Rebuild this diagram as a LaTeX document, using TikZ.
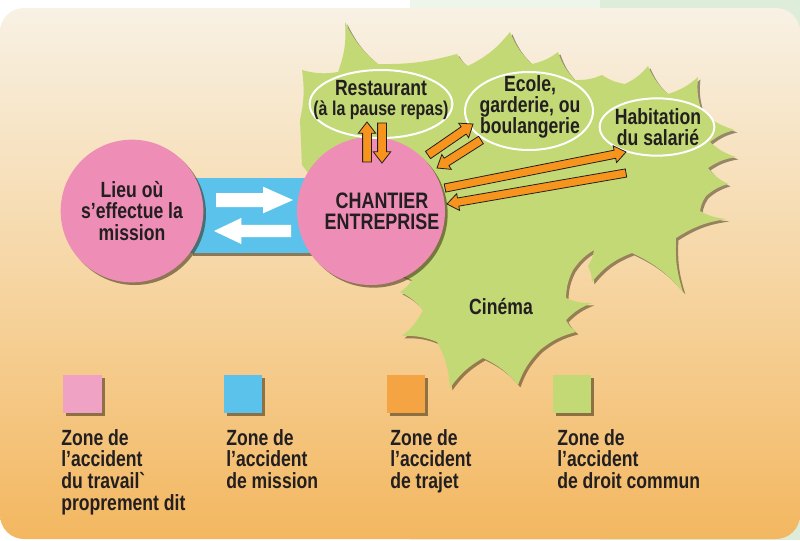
\documentclass[tikz,border=0pt]{standalone}
\usepackage{fontspec}
\setmainfont{Liberation Sans}[FakeStretch=0.8]
\usetikzlibrary{shapes.geometric,calc,shadows}
\definecolor{splat}{HTML}{C2D975}
\definecolor{pinkc}{HTML}{EE8DB5}
\definecolor{bluec}{HTML}{5BC3EB}
\definecolor{orangec}{HTML}{F7941D}
\definecolor{legpink}{HTML}{F0A2C4}
\definecolor{legorange}{HTML}{F5A443}
\definecolor{txt}{HTML}{231F20}
\definecolor{bgtop}{HTML}{F8F1E4}
\definecolor{bgmid}{HTML}{F6D6A4}
\definecolor{bgbot}{HTML}{F3B760}
\definecolor{greenA}{HTML}{EEF5EA}
\definecolor{greenB}{HTML}{DDEDDA}
\definecolor{shadowc}{HTML}{3A2A10}
% fat arrow: [style]{from}{to}{shaft half}{head half}{head length}
\newcommand\fatarr[6][]{\path[#1] ($(#2)!#4!90:(#3)$) -- ($(#3)!#6!(#2)!#4!90:(#3)$) -- ($(#3)!#6!(#2)!#5!90:(#3)$) -- (#3) -- ($(#3)!#6!(#2)!#5!-90:(#3)$) -- ($(#3)!#6!(#2)!#4!-90:(#3)$) -- ($(#2)!#4!-90:(#3)$) -- cycle;}
\begin{document}
\begin{tikzpicture}[x=0.75pt,y=-0.75pt,
  every node/.style={font=\bfseries\fontsize{16.5pt}{16.5pt}\selectfont, text=txt, inner sep=0pt},
  shad/.style={drop shadow={shadow xshift=2pt, shadow yshift=-2pt, opacity=0.55, fill=shadowc}},
  pinkcirc/.style={circle, fill=pinkc, shad},
  oval/.style={ellipse, draw=white, line width=1.5pt, fill=splat},
  orangearr/.style={fill=orangec, draw=txt, line width=0.6pt, line join=miter},
  whitearr/.style={fill=white},
  legsq/.style={shad},
  legtxt/.style={anchor=north west, align=left, font=\bfseries\fontsize{16.5pt}{16.2pt}\selectfont}]
\useasboundingbox (0,0) rectangle (800,540);
\fill[white] (0,0) rectangle (800,540);
\fill[greenA] (410,0) rectangle (600,540);
\fill[greenB] (600,0) rectangle (800,540);
\shade[top color=bgtop, bottom color=bgbot, middle color=bgmid, rounded corners=18pt] (0,8) rectangle (800,539);
% green splat
\path[fill=splat, drop shadow={shadow xshift=1.8pt, shadow yshift=-1.8pt, opacity=0.5, fill=shadowc}]
 (300,120) to[bend right=10] (302,70) to[bend right=12] (338,72) to[bend right=12] (345,22)
 to[bend right=12] (378,64) to[bend right=8] (457,54) to[bend right=12] (468,66)
 to[bend right=12] (510,32) to[bend right=12] (532,64) to[bend right=12] (558,52)
 to[bend right=12] (575,80) to[bend right=12] (602,75) to[bend right=12] (625,84)
 to[bend right=12] (648,66) to[bend right=12] (668,94) to[bend right=12] (698,77)
 to[bend right=12] (702,112) to[bend right=12] (735,130) to[bend right=12] (710,142)
 to[bend right=12] (736,157) to[bend right=12] (708,168) to[bend right=12] (728,184)
 to[bend right=12] (706,196) to[bend right=12] (700,211) to[bend right=12] (727,219)
 to[bend right=12] (676,238) to[bend right=10] (683,292) to[bend right=12] (632,253)
 to[bend right=15] (592,282) to[bend right=12] (588,266) to[bend right=12] (594,250)
 to[bend right=12] (573,270) to[bend right=12] (566,298) to[bend right=12] (592,303)
 to[bend right=12] (566,320) to[bend right=12] (576,332) to[bend right=12] (540,350)
 to[bend right=12] (518,385) to[bend right=12] (483,358) to[bend right=12] (450,388)
 to[bend right=12] (437,342) to[bend right=12] (402,336) to[bend right=12] (423,310)
 to[bend right=12] (400,292) to[bend right=12] (412,280) -- (370,262) -- (330,200) -- (302,165) -- cycle;
% blue band
\fill[bluec, shad] (190,178) rectangle (312,253);
% circles
\node[pinkcirc, minimum size=107pt, align=center, font=\bfseries\fontsize{16.5pt}{16.2pt}\selectfont] (lieu) at (132,211) {Lieu où\\s’effectue la\\mission};
\node[pinkcirc, minimum size=111pt] (chantier) at (371,211) {};
\node[align=center, font=\bfseries\fontsize{16.8pt}{15.8pt}\selectfont] (chantiertxt) at (382,211) {CHANTIER\\ENTREPRISE};
% white arrows
\coordinate (w1s) at (216,200); \coordinate (w1e) at (293,200);
\coordinate (w2s) at (291,231); \coordinate (w2e) at (214,231);
\fatarr[whitearr]{w1s}{w1e}{5.25pt}{10pt}{22.5pt}
\fatarr[whitearr]{w2s}{w2e}{4.6pt}{9.8pt}{20.5pt}
% ellipses
\node[oval, minimum width=107pt, minimum height=51pt] (rest) at (381,104) {};
\node[align=center, font=\bfseries\fontsize{16.5pt}{14.5pt}\selectfont] (resttxt) at (381,100) {Restaurant\\{\fontsize{15pt}{15pt}\selectfont(à la pause repas)}};
\node[oval, minimum width=96pt, minimum height=58.5pt] (ecole) at (529,111) {};
\node[align=center, font=\bfseries\fontsize{16.5pt}{13.8pt}\selectfont] (ecoletxt) at (530,107) {Ecole,\\garderie, ou\\boulangerie};
\node[oval, minimum width=86pt, minimum height=43pt] (hab) at (657,127) {};
\node[align=center, font=\bfseries\fontsize{16.5pt}{16pt}\selectfont] (habtxt) at (658,127) {Habitation\\du salarié};
\node (cinema) at (501,307) {Cinéma};
% orange arrows
\coordinate (r1s) at (367,162); \coordinate (r1e) at (367,122);
\coordinate (r2s) at (382,123); \coordinate (r2e) at (382,163);
\coordinate (e1s) at (428,155); \coordinate (e1e) at (473,124);
\coordinate (e2s) at (481,140); \coordinate (e2e) at (437,168);
\coordinate (h1s) at (445,188); \coordinate (h1e) at (626,152);
\coordinate (h2s) at (626,173); \coordinate (h2e) at (447,204);
\fatarr[orangearr]{r1s}{r1e}{3.3pt}{6.6pt}{8.5pt}
\fatarr[orangearr]{r2s}{r2e}{3.3pt}{6.6pt}{8.5pt}
\fatarr[orangearr]{e1s}{e1e}{3.3pt}{6.6pt}{8.5pt}
\fatarr[orangearr]{e2s}{e2e}{3.3pt}{6.6pt}{8.5pt}
\fatarr[orangearr]{h1s}{h1e}{3.1pt}{6.4pt}{8.5pt}
\fatarr[orangearr]{h2s}{h2e}{3.1pt}{6.4pt}{8.5pt}
% legend
\fill[legpink, legsq] (63,375) rectangle (102,413);
\fill[bluec, legsq] (224,375) rectangle (262,413);
\fill[legorange, legsq] (387,375) rectangle (425,413);
\fill[splat, legsq] (553,375) rectangle (591,413);
\node[legtxt] (l1) at (61,429) {Zone de\\l’accident\\du travail\textasciigrave\\proprement dit};
\node[legtxt] (l2) at (226,429) {Zone de\\l’accident\\de mission};
\node[legtxt] (l3) at (390,429) {Zone de\\l’accident\\de trajet};
\node[legtxt] (l4) at (557,429) {Zone de\\l’accident\\de droit commun};
\end{tikzpicture}
\end{document}
